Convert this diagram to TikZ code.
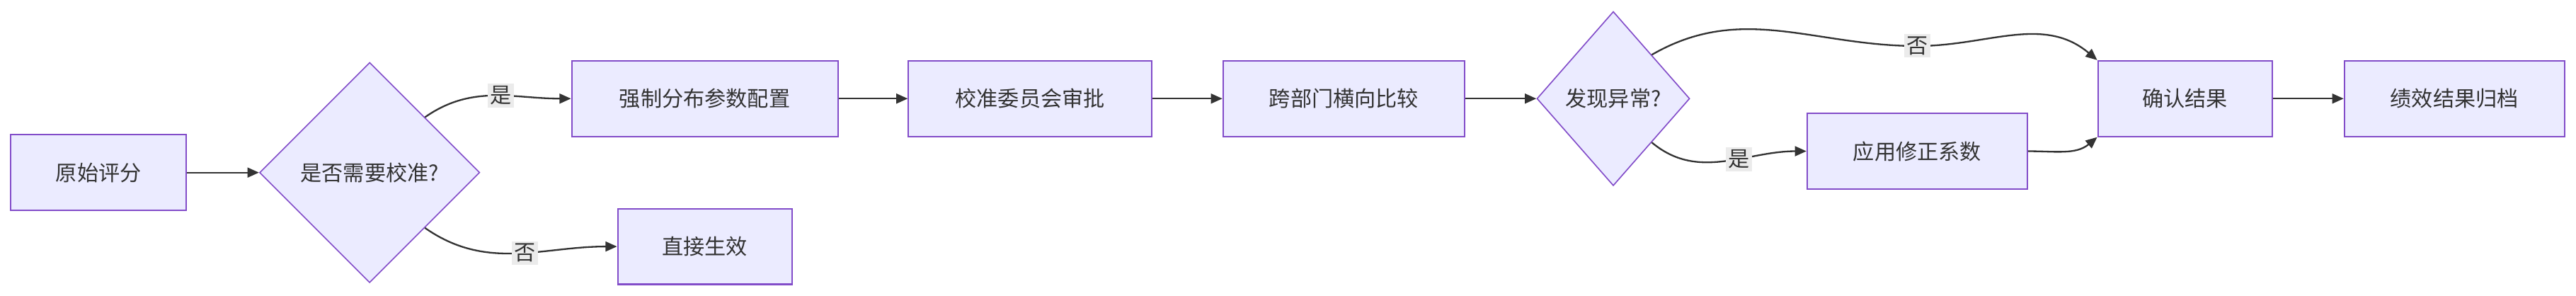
\documentclass[tikz,border=0pt]{standalone}
\usepackage{fontspec}
\newfontfamily\cjk{Noto Sans CJK SC}
\usetikzlibrary{arrows.meta, positioning, shapes.geometric}

\tikzset{
    stepbox/.style={draw=violet!60!blue!70, line width=0.9pt, fill=blue!8, minimum height=46pt, inner sep=0pt, font=\cjk\fontsize{13pt}{15pt}\selectfont, text=black!80},
    decide/.style={diamond, draw=violet!60!blue!70, line width=0.7pt, fill=blue!8, aspect=1, inner sep=0pt, font=\cjk\fontsize{13pt}{15pt}\selectfont, text=black!80},
    flow/.style={-{Triangle[length=7pt, width=6pt]}, line width=1pt, black!80},
    tag/.style={fill=black!8, font=\cjk\fontsize{13pt}{15pt}\selectfont, text=black!80, inner sep=1.5pt}
}

\begin{document}
\begin{tikzpicture}[x=1pt, y=-1pt]
    \useasboundingbox (0,0) rectangle (1568,180);

    % main line
    \node[stepbox, minimum width=107pt] (raw) at (60,105) {原始评分};
    \node[decide, minimum width=134pt, minimum height=134pt] (need) at (225,105) {是否需要校准?};
    \node[stepbox, minimum width=162pt] (force) at (429,60) {强制分布参数配置};
    \node[stepbox, minimum width=106pt] (direct) at (429,150) {直接生效};
    \node[stepbox, minimum width=148pt] (board) at (627,60) {校准委员会审批};
    \node[stepbox, minimum width=147pt] (cross) at (818,60) {跨部门横向比较};
    \node[decide, minimum width=93pt, minimum height=106pt] (odd) at (982,60) {发现异常?};
    \node[stepbox, minimum width=134pt] (fix) at (1167,92) {应用修正系数};
    \node[stepbox, minimum width=106pt] (ok) at (1330,60) {确认结果};
    \node[stepbox, minimum width=134pt] (arch) at (1494,60) {绩效结果归档};

    \draw[flow] (raw) -- (need);
    \draw[flow] (need.north east) to[out=35, in=180] node[tag, pos=0.55] {是} (force.west);
    \draw[flow] (need.south east) to[out=-35, in=180] node[tag, pos=0.55] {否} (direct.west);
    \draw[flow] (force) -- (board);
    \draw[flow] (board) -- (cross);
    \draw[flow] (cross) -- (odd);
    \draw[flow] (odd.north east) to[out=30, in=180] (1167,28) node[tag] {否} to[out=0, in=140] (ok.north west);
    \draw[flow] (odd.south east) to[out=-40, in=180] node[tag, pos=0.6] {是} (fix.west);
    \draw[flow] (fix.east) to[out=0, in=-140] (ok.south west);
    \draw[flow] (ok) -- (arch);
\end{tikzpicture}
\end{document}
